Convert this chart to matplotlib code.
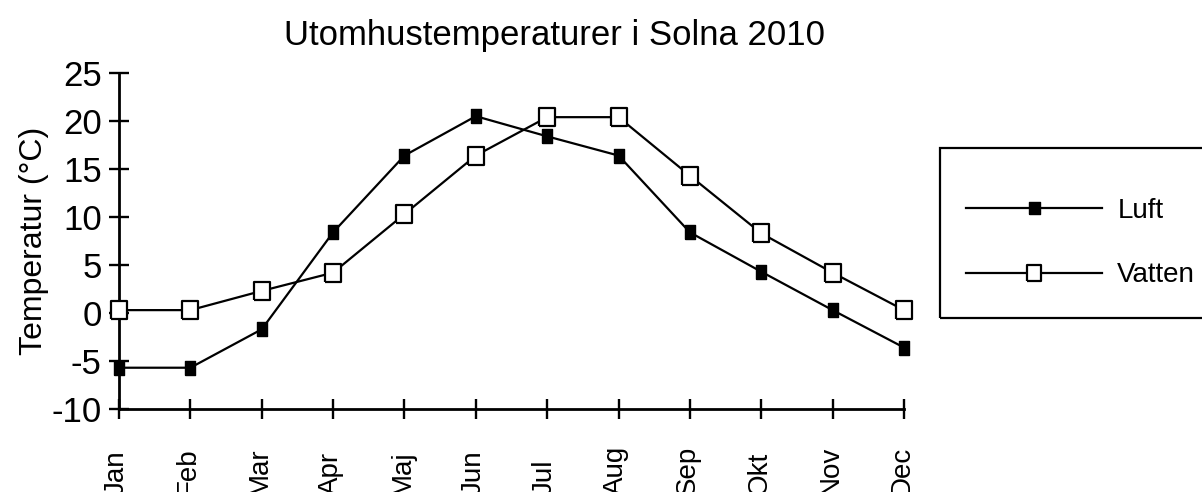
import matplotlib
matplotlib.use("Agg")
import matplotlib.pyplot as plt
from matplotlib.patches import Rectangle
from matplotlib.transforms import blended_transform_factory

months = ["Jan", "Feb", "Mar", "Apr", "Maj", "Jun", "Jul", "Aug", "Sep", "Okt", "Nov", "Dec"]
luft = [-5.7, -5.7, -1.7, 8.4, 16.4, 20.5, 18.4, 16.4, 8.4, 4.3, 0.3, -3.6]
vatten = [0.3, 0.3, 2.3, 4.2, 10.3, 16.4, 20.4, 20.4, 14.3, 8.3, 4.2, 0.3]
yticks = [-10, -5, 0, 5, 10, 15, 20, 25]

plt.rcParams['font.family'] = ['Liberation Sans', 'DejaVu Sans']

W, H = 1202, 492
fig = plt.figure(figsize=(W / 100, H / 100), dpi=100)
x0, x1, ytop, ybot = 119, 904, 73, 409
ax = fig.add_axes([x0 / W, (H - ybot) / H, (x1 - x0) / W, (ybot - ytop) / H])

tall = [(-0.38, -0.5), (0.38, -0.5), (0.38, 0.5), (-0.38, 0.5), (-0.38, -0.5)]
tall2 = [(-0.44, -0.5), (0.44, -0.5), (0.44, 0.5), (-0.44, 0.5), (-0.44, -0.5)]

xs = list(range(len(months)))
ax.plot(xs, luft, color='black', lw=1.6, marker=tall, ms=10, mfc='black',
        mec='black', clip_on=False, zorder=3, label='Luft')
ax.plot(xs, vatten, color='black', lw=1.6, marker=tall2, ms=12.5, mfc='white',
        mec='black', mew=1.6, clip_on=False, zorder=4, label='Vatten')

ax.set_xlim(0, 11)
ax.set_ylim(-10, 25)
ax.set_yticks(yticks)
ax.set_yticklabels([str(v) for v in yticks], fontsize=25)
ax.set_xticks(xs)
ax.set_xticklabels([])
for s in ['top', 'right']:
    ax.spines[s].set_visible(False)
for s in ['left', 'bottom']:
    ax.spines[s].set_linewidth(2)
ax.tick_params(axis='both', direction='inout', length=15, width=1.7, pad=5)
ax.tick_params(axis='x', length=14)

trans = blended_transform_factory(ax.transData, fig.transFigure)
for i, m in enumerate(months):
    ax.text(i - 0.03, -3 / H, m, transform=trans, rotation=90, ha='center', va='bottom',
            fontsize=20, clip_on=False)

ax.set_ylabel('Temperatur (°C)', fontsize=23, labelpad=2)
fig.text(555 / W, 1 - 36 / H, 'Utomhustemperaturer i Solna 2010', fontsize=25,
         ha='center', va='center')

fig.patches.append(Rectangle((940 / W, (H - 318) / H), 0.3, 170 / H, transform=fig.transFigure,
                             fill=False, edgecolor='black', lw=1.6, figure=fig))
h1, = ax.plot([], [], color='black', lw=1.6, marker=tall2, ms=9, mfc='black', mec='black')
h2, = ax.plot([], [], color='black', lw=1.6, marker=tall2, ms=12, mfc='white', mec='black', mew=1.6)
fig.legend([h1, h2], ['Luft', 'Vatten'], loc='center left',
           bbox_to_anchor=(952 / W, 1 - 243 / H), frameon=False, fontsize=20,
           handlelength=4.9, handletextpad=0.55, labelspacing=1.4, borderpad=0)

fig.savefig('out.png', dpi=100)
